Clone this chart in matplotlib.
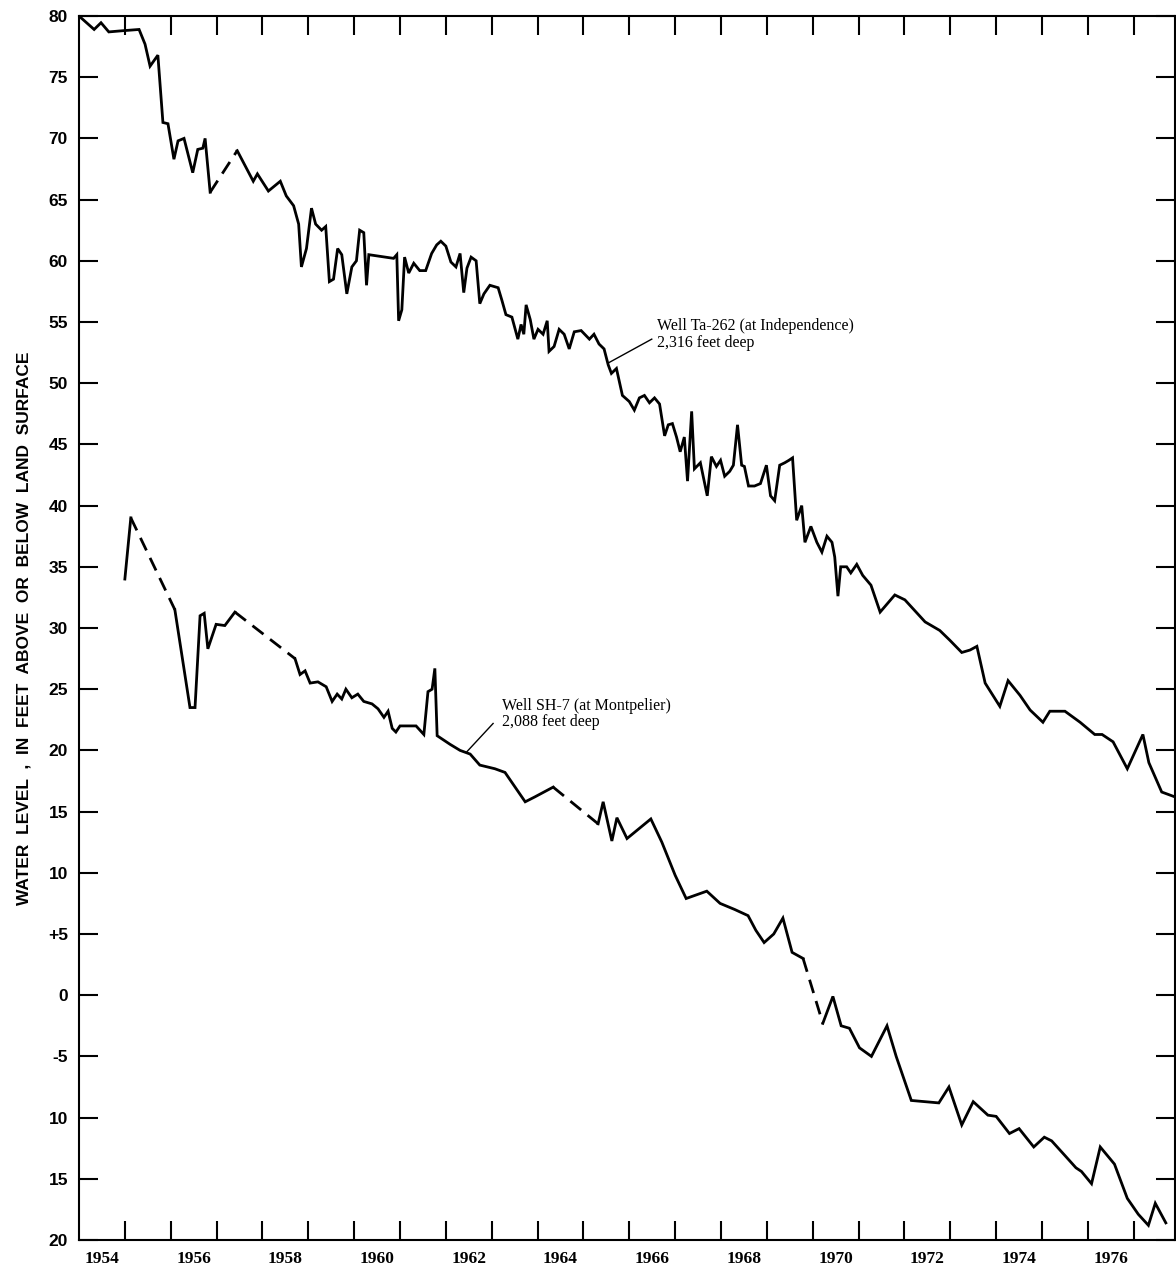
import numpy as np
import matplotlib.pyplot as plt

plt.rcParams['font.family'] = 'Liberation Sans'
plt.rcParams['axes.linewidth'] = 1.5

# Well Ta-262 (at Independence): solid runs, the gap is bridged by a dashed line
ta_year_a = [1954.0, 1954.33, 1954.48, 1954.65, 1954.96, 1955.31, 1955.44, 1955.55, 1955.72,
             1955.83, 1955.94, 1956.07, 1956.16, 1956.29, 1956.48, 1956.59, 1956.70, 1956.75, 1956.86]
ta_level_a = [80.0, 78.9, 79.45, 78.7, 78.8, 78.9, 77.7, 75.9, 76.8,
              71.3, 71.2, 68.3, 69.8, 70.0, 67.2, 69.1, 69.2, 70.0, 65.6]
ta_year_b = [1957.45, 1957.80, 1957.89, 1958.13, 1958.39, 1958.52, 1958.68, 1958.79, 1958.85,
             1958.96, 1959.07, 1959.16, 1959.29, 1959.38, 1959.46, 1959.55, 1959.64, 1959.73,
             1959.84, 1959.95, 1960.05, 1960.12, 1960.21, 1960.27, 1960.32, 1960.86, 1960.93,
             1960.97, 1961.04, 1961.10, 1961.19, 1961.30, 1961.43, 1961.56, 1961.69, 1961.80,
             1961.89, 1962.00, 1962.11, 1962.22, 1962.31, 1962.39, 1962.46, 1962.55, 1962.66,
             1962.74, 1962.83, 1962.96, 1963.14, 1963.22, 1963.31, 1963.44, 1963.57, 1963.64,
             1963.70, 1963.75, 1963.84, 1963.92, 1964.01, 1964.12, 1964.21, 1964.25, 1964.36,
             1964.47, 1964.58, 1964.69, 1964.80, 1964.95, 1965.13, 1965.23, 1965.34, 1965.45,
             1965.54, 1965.61, 1965.72, 1965.85, 1966.00, 1966.11, 1966.22, 1966.33, 1966.44,
             1966.55, 1966.66, 1966.77, 1966.85, 1966.94, 1967.03, 1967.11, 1967.20, 1967.27,
             1967.36, 1967.42, 1967.55, 1967.70, 1967.79, 1967.90, 1967.99, 1968.08, 1968.19,
             1968.27, 1968.36, 1968.45, 1968.51, 1968.60, 1968.73, 1968.86, 1968.99, 1969.08,
             1969.17, 1969.28, 1969.39, 1969.48, 1969.56, 1969.65, 1969.76, 1969.83, 1969.96,
             1970.09, 1970.20, 1970.31, 1970.42, 1970.48, 1970.55, 1970.61, 1970.74, 1970.83,
             1970.96, 1971.09, 1971.27, 1971.47, 1971.79, 1972.01, 1972.45, 1972.77, 1972.99,
             1973.25, 1973.43, 1973.58, 1973.76, 1974.08, 1974.26, 1974.52, 1974.74, 1975.02,
             1975.17, 1975.50, 1975.83, 1976.15, 1976.31, 1976.55, 1976.86, 1977.20, 1977.33,
             1977.61, 1977.90]
ta_level_b = [69.0, 66.5, 67.1, 65.7, 66.5, 65.3, 64.5, 63.0, 59.5,
              61.0, 64.3, 63.0, 62.5, 62.8, 58.3, 58.5, 61.0, 60.5,
              57.3, 59.5, 60.0, 62.5, 62.3, 58.0, 60.5, 60.2, 60.5,
              55.1, 56.0, 60.3, 59.0, 59.8, 59.2, 59.2, 60.6, 61.3,
              61.6, 61.2, 59.9, 59.5, 60.6, 57.4, 59.4, 60.3, 60.0,
              56.5, 57.3, 58.0, 57.8, 56.8, 55.6, 55.4, 53.6, 54.8,
              54.0, 56.4, 55.2, 53.6, 54.4, 54.0, 55.1, 52.6, 53.0,
              54.4, 54.0, 52.8, 54.2, 54.3, 53.6, 54.0, 53.2, 52.8,
              51.5, 50.8, 51.2, 49.0, 48.5, 47.8, 48.8, 49.0, 48.4,
              48.8, 48.3, 45.7, 46.6, 46.7, 45.6, 44.4, 45.6, 42.0,
              47.7, 43.0, 43.5, 40.8, 44.0, 43.2, 43.7, 42.4, 42.8,
              43.3, 46.6, 43.3, 43.2, 41.6, 41.6, 41.8, 43.3, 40.8,
              40.4, 43.3, 43.5, 43.7, 43.9, 38.8, 40.0, 37.0, 38.3,
              37.0, 36.2, 37.5, 37.0, 35.8, 32.6, 35.0, 35.0, 34.5,
              35.2, 34.3, 33.5, 31.3, 32.7, 32.3, 30.5, 29.8, 29.0,
              28.0, 28.2, 28.5, 25.5, 23.6, 25.7, 24.5, 23.3, 22.3,
              23.2, 23.2, 22.3, 21.3, 21.3, 20.7, 18.5, 21.3, 19.0,
              16.6, 16.2]

# Well SH-7 (at Montpelier): five measured runs joined by dashed bridges
sh_year_a = [1955.0, 1955.13]
sh_level_a = [34.0, 39.0]
sh_year_b = [1956.09, 1956.42, 1956.53, 1956.64, 1956.73, 1956.81, 1956.99, 1957.18, 1957.40]
sh_level_b = [31.5, 23.5, 23.5, 31.0, 31.2, 28.3, 30.3, 30.2, 31.3]
sh_year_c = [1958.71, 1958.82, 1958.93, 1959.04, 1959.21, 1959.39, 1959.52, 1959.63, 1959.73,
             1959.82, 1959.95, 1960.08, 1960.21, 1960.39, 1960.52, 1960.65, 1960.74, 1960.83,
             1960.91, 1961.00, 1961.22, 1961.35, 1961.52, 1961.61, 1961.70, 1961.76, 1961.81,
             1962.09, 1962.31, 1962.53, 1962.74, 1963.07, 1963.29, 1963.51, 1963.73, 1963.94,
             1964.34]
sh_level_c = [27.5, 26.2, 26.5, 25.5, 25.6, 25.2, 24.0, 24.6, 24.2,
              25.0, 24.3, 24.6, 24.0, 23.8, 23.4, 22.7, 23.2, 21.8,
              21.5, 22.0, 22.0, 22.0, 21.3, 24.8, 25.0, 26.7, 21.2,
              20.5, 20.0, 19.7, 18.8, 18.5, 18.2, 17.0, 15.8, 16.2,
              17.0]
sh_year_d = [1965.32, 1965.43, 1965.62, 1965.73, 1965.95, 1966.47, 1966.71, 1967.00, 1967.24,
             1967.69, 1967.98, 1968.30, 1968.59, 1968.76, 1968.94, 1969.15, 1969.35, 1969.55,
             1969.79]
sh_level_d = [14.0, 15.8, 12.6, 14.5, 12.8, 14.4, 12.5, 9.8, 7.9,
              8.5, 7.5, 7.0, 6.5, 5.3, 4.3, 5.0, 6.3, 3.5,
              3.0]
sh_year_e = [1970.22, 1970.44, 1970.62, 1970.80, 1971.02, 1971.28, 1971.62, 1971.82, 1972.15,
             1972.45, 1972.75, 1972.97, 1973.25, 1973.50, 1973.82, 1974.00, 1974.29, 1974.50,
             1974.82, 1975.05, 1975.21, 1975.50, 1975.74, 1975.86, 1976.08, 1976.27, 1976.58,
             1976.86, 1977.10, 1977.32, 1977.47, 1977.70]
sh_level_e = [-2.3, -0.1, -2.5, -2.7, -4.3, -5.0, -2.5, -5.0, -8.6,
              -8.7, -8.8, -7.5, -10.6, -8.7, -9.8, -9.9, -11.3, -10.9,
              -12.4, -11.6, -11.9, -13.1, -14.1, -14.4, -15.4, -12.4, -13.8,
              -16.6, -17.9, -18.8, -17.0, -18.6]

y_ticks = list(range(80, -21, -5))
y_labels = ['80', '75', '70', '65', '60', '55', '50', '45', '40', '35', '30', '25', '20',
            '15', '10', '+5', '0', '-5', '10', '15', '20']
label_years = list(range(1954, 1977, 2))

fig = plt.figure(figsize=(11.76, 12.72), dpi=100)
ax = fig.add_axes([79 / 1176, 1 - 1240 / 1272, 1096 / 1176, 1224 / 1272])

lw = 2.0
dash = (0, (5, 3))


def solid(x, y):
    ax.plot(x, y, color='black', lw=lw, solid_joinstyle='miter')


def bridge(x0, y0, x1, y1):
    ax.plot([x0, x1], [y0, y1], color='black', lw=lw, linestyle=dash)


solid(ta_year_a, ta_level_a)
bridge(ta_year_a[-1], ta_level_a[-1], ta_year_b[0], ta_level_b[0])
solid(ta_year_b, ta_level_b)

solid(sh_year_a, sh_level_a)
bridge(sh_year_a[-1], sh_level_a[-1], sh_year_b[0], sh_level_b[0])
solid(sh_year_b, sh_level_b)
bridge(sh_year_b[-1], sh_level_b[-1], sh_year_c[0], sh_level_c[0])
solid(sh_year_c, sh_level_c)
bridge(sh_year_c[-1], sh_level_c[-1], sh_year_d[0], sh_level_d[0])
solid(sh_year_d, sh_level_d)
bridge(sh_year_d[-1], sh_level_d[-1], sh_year_e[0], sh_level_e[0])
solid(sh_year_e, sh_level_e)

ax.set_xlim(1954.0, 1977.9)
ax.set_ylim(-20, 80)

# tick marks on the year boundaries, labels centred in the year
ax.set_xticks(np.arange(1955, 1978, 1))
ax.set_xticks([y + 0.5 for y in label_years], minor=True)
ax.set_xticklabels([str(y) for y in label_years], minor=True,
                   fontfamily='Liberation Serif', fontweight='bold', fontsize=12.5)
ax.tick_params(axis='x', which='major', direction='in', length=14, width=1.5,
               top=True, labelbottom=False)
ax.tick_params(axis='x', which='minor', length=0, pad=8)

ax.set_yticks(y_ticks)
ax.set_yticklabels(y_labels, fontweight='bold', fontsize=12.5)
ax.tick_params(axis='y', which='major', direction='in', length=14, width=1.5,
               right=True, pad=8)

ax.set_ylabel('WATER  LEVEL  ,  IN  FEET  ABOVE  OR  BELOW  LAND  SURFACE',
              fontsize=12.5, fontweight='bold', labelpad=12)

# well labels with their leader lines
ax.text(1966.6, 55.3, 'Well Ta-262 (at Independence)\n2,316 feet deep',
        fontfamily='Liberation Serif', fontsize=11.5, ha='left', va='top', linespacing=1.05)
ax.plot([1965.54, 1966.49], [51.65, 53.6], color='black', lw=1.0)
ax.text(1963.22, 24.3, 'Well SH-7 (at Montpelier)\n2,088 feet deep',
        fontfamily='Liberation Serif', fontsize=11.5, ha='left', va='top', linespacing=1.05)
ax.plot([1962.46, 1963.03], [19.9, 22.2], color='black', lw=1.0)

fig.savefig('out.png', dpi=100)
